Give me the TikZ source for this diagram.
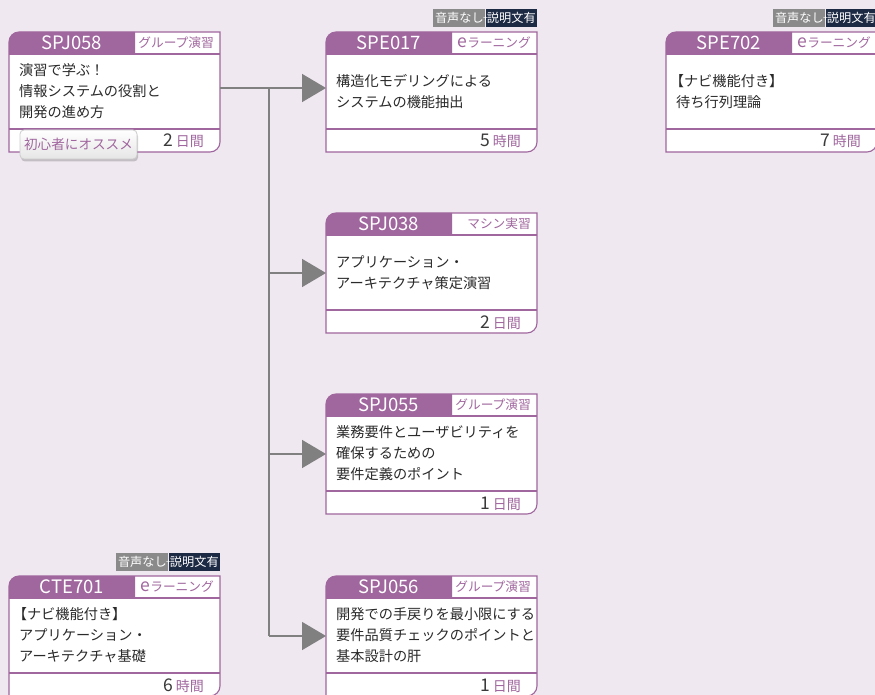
\documentclass[tikz,border=0pt]{standalone}
\usepackage{fontspec}
\setmainfont{Noto Sans CJK JP}
\usetikzlibrary{arrows.meta,calc}
\definecolor{bg}{HTML}{EFE8F0}
\definecolor{pur}{HTML}{A0669E}
\definecolor{lgray}{HTML}{808080}
\definecolor{txt}{HTML}{2A2A2A}
\definecolor{numgray}{HTML}{3A3A3A}
\definecolor{bgray}{HTML}{8A8A8A}
\definecolor{navy}{HTML}{1D2A44}
\tikzset{
 cardframe/.style={rectangle, minimum width=211pt, minimum height=120pt, inner sep=0pt, outer sep=0pt},
 cardline/.style={draw=pur, line width=1.1pt},
 hdr/.style={fill=pur},
 codetext/.style={text=white, font=\fontsize{18.5}{18.5}\selectfont, inner sep=0pt},
 labtext/.style={text=pur, font=\fontsize{12.7}{12.7}\selectfont, inner sep=0pt},
 bodytext/.style={text=txt, font=\fontsize{14.2}{21}\selectfont, align=left, inner sep=0pt},
 foottext/.style={inner sep=0pt},
 conn/.style={draw=lgray, line width=1.6pt},
 arr/.style={-{Triangle[length=24pt,width=28pt]}},
 graybadge/.style={fill=bgray, text=white, minimum width=52pt, minimum height=18pt, inner sep=0pt, font=\fontsize{12.2}{12.2}\selectfont},
 navybadge/.style={fill=navy, text=white, minimum width=51pt, minimum height=18pt, inner sep=0pt, font=\fontsize{12.2}{12.2}\selectfont},
 plussign/.style={text=white, inner sep=0pt, font=\fontsize{9}{9}\selectfont},
 recobadge/.style={rounded corners=4pt, minimum width=117pt, minimum height=29pt, inner sep=0pt,
   top color=white, bottom color=black!10, draw=black!20, line width=0.8pt, text=pur,
   font=\fontsize{13.6}{13.6}\selectfont,
   preaction={fill=black, opacity=0.18, transform canvas={xshift=1pt,yshift=-2.5pt}}},
}
\newcommand{\elearn}{{\fontsize{17.5}{17.5}\selectfont e}ラーニング}
\newcommand{\kbr}{\hspace*{-0.45em}}
% #1 name, #2 x, #3 y, #4 code, #5 label, #6 body, #7 number, #8 unit
\newcommand{\card}[8]{%
 \node[cardframe, anchor=north west] (#1) at (#2,#3) {};
 \begin{scope}[shift={(#1.north west)}]
  \fill[white] (211pt,0pt) -- (211pt,-110pt) arc[start angle=0,end angle=-90,radius=10pt] -- (0pt,-120pt) -- (0pt,-10pt) arc[start angle=180,end angle=90,radius=10pt] -- cycle;
  \fill[hdr] (126pt,0pt) -- (126pt,-22pt) -- (0pt,-22pt) -- (0pt,-10pt) arc[start angle=180,end angle=90,radius=10pt] -- cycle;
  \draw[cardline] (211pt,0pt) -- (211pt,-110pt) arc[start angle=0,end angle=-90,radius=10pt] -- (0pt,-120pt) -- (0pt,-10pt) arc[start angle=180,end angle=90,radius=10pt] -- cycle;
  \draw[cardline] (0pt,-22pt) -- (211pt,-22pt);
  \draw[cardline] (0pt,-97pt) -- (211pt,-97pt);
  \node[codetext] (#1-code) at (63pt,-11pt) {#4};
  \node[labtext, anchor=east] (#1-lab) at (205pt,-11pt) {#5};
  \node[bodytext, anchor=west] (#1-body) at (10pt,-59.5pt) {#6};
  \node[foottext, anchor=base east] (#1-foot) at (195pt,-115pt) {{\fontsize{17.5}{17.5}\selectfont\color{numgray}#7}\hspace{2.5pt}{\fontsize{14}{14}\selectfont\color{pur}#8}};
 \end{scope}}
% audio badge above card #1
\newcommand{\audiobadge}[1]{%
 \node[navybadge, anchor=south east] (#1-nv) at ([yshift=4.5pt]#1.north east) {説明文有};
 \node[graybadge, anchor=south east] (#1-gr) at (#1-nv.south west) {音声なし};
 \node[plussign] (#1-plus) at (#1-nv.west) {+};}
\begin{document}
\begin{tikzpicture}[x=1pt,y=-1pt]
\useasboundingbox (0,0) rectangle (875,695);
\fill[bg] (0,0) rectangle (875,695);

\card{SPJ058}{9}{32}{SPJ058}{グループ演習}{演習で学ぶ！\\情報システムの役割と\\開発の進め方}{2}{日間}
\card{SPE017}{326}{32}{SPE017}{\elearn}{構造化モデリングによる\\システムの機能抽出}{5}{時間}
\card{SPE702}{666}{32}{SPE702}{\elearn}{\kbr【ナビ機能付き】\\待ち行列理論}{7}{時間}
\card{SPJ038}{326}{213}{SPJ038}{マシン実習}{アプリケーション・\\アーキテクチャ策定演習}{2}{日間}
\card{SPJ055}{326}{394}{SPJ055}{グループ演習}{業務要件とユーザビリティを\\確保するための\\要件定義のポイント}{1}{日間}
\card{SPJ056}{326}{576}{SPJ056}{グループ演習}{開発での手戻りを最小限にする\\要件品質チェックのポイントと\\基本設計の肝}{1}{日間}
\card{CTE701}{9}{576}{CTE701}{\elearn}{\kbr【ナビ機能付き】\\アプリケーション・\\アーキテクチャ基礎}{6}{時間}

\audiobadge{SPE017}
\audiobadge{SPE702}
\audiobadge{CTE701}

\node[recobadge] (reco) at (78.5,144.5) {初心者にオススメ};

\coordinate (J) at (269,88);
\draw[conn] (J) -- (J |- SPJ056.west);
\draw[conn,arr] ([yshift=4pt]SPJ058.east) -- ([yshift=4pt]SPE017.west);
\draw[conn,arr] (J |- SPJ038.west) -- (SPJ038.west);
\draw[conn,arr] (J |- SPJ055.west) -- (SPJ055.west);
\draw[conn,arr] (J |- SPJ056.west) -- (SPJ056.west);
\end{tikzpicture}
\end{document}
